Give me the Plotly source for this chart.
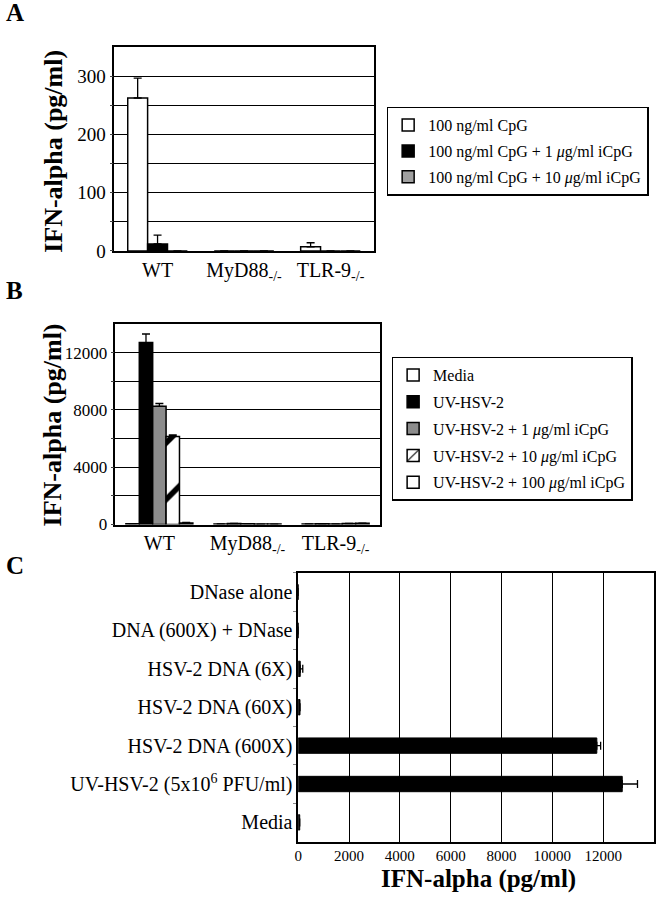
import plotly.graph_objects as go

FONT = "Liberation Serif"
W, H = 656, 900

# ---- panel A data ----
a_groups = ["WT", "MyD88<sub>-/-</sub>", "TLR-9<sub>-/-</sub>"]
a_names = ["100 ng/ml CpG",
           "100 ng/ml CpG + 1 <i>μ</i>g/ml iCpG",
           "100 ng/ml CpG + 10 <i>μ</i>g/ml iCpG"]
a_cpg = [263, 0, 7]
a_cpg_err = [34, 0, 7]
a_i1 = [12, 0, 0]
a_i1_err = [15, 0, 0]
a_i10 = [0, 0, 0]
a_i10_err = [0, 0, 0]
a_ticks = [0, 50, 100, 150, 200, 250, 300]
a_ticktext = ["0", "", "100", "", "200", "", "300"]

# ---- panel B data ----
b_groups = ["WT", "MyD88<sub>-/-</sub>", "TLR-9<sub>-/-</sub>"]
b_names = ["Media", "UV-HSV-2",
           "UV-HSV-2 + 1 <i>μ</i>g/ml iCpG",
           "UV-HSV-2 + 10 <i>μ</i>g/ml iCpG",
           "UV-HSV-2 + 100 <i>μ</i>g/ml iCpG"]
b_media = [60, 40, 40]
b_uv = [12700, 70, 50]
b_uv_err = [600, 0, 0]
b_i1 = [8250, 60, 40]
b_i1_err = [200, 0, 0]
b_i10 = [6150, 30, 70]
b_i10_err = [100, 0, 0]
b_i100 = [110, 30, 90]
b_i100_err = [30, 0, 0]
b_ticks = [0, 2000, 4000, 6000, 8000, 10000, 12000]
b_ticktext = ["0", "", "4000", "", "8000", "", "12000"]

# ---- panel C data (bottom to top) ----
c_labels = ["Media", "UV-HSV-2 (5x10<sup>6</sup> PFU/ml)", "HSV-2 DNA (600X)",
            "HSV-2 DNA (60X)", "HSV-2 DNA (6X)", "DNA (600X) + DNase", "DNase alone"]
c_vals = [60, 12750, 11750, 70, 80, 0, 0]
c_err = [0, 600, 150, 0, 100, 0, 0]
c_ticks = [0, 2000, 4000, 6000, 8000, 10000, 12000]


def px(x0, x1):
    return [x0 / W, x1 / W]


def py(top, bottom):
    return [1 - bottom / H, 1 - top / H]


def err(arr):
    return dict(type="data", array=arr, arrayminus=[0] * len(arr), symmetric=False,
                color="black", thickness=1.3, width=4)


fig = go.Figure()

# panel A bars
a_w = 0.23
a_colors = ["white", "black", "#a0a0a0"]
for i, (vals, e) in enumerate([(a_cpg, a_cpg_err), (a_i1, a_i1_err), (a_i10, a_i10_err)]):
    fig.add_trace(go.Bar(
        x=a_groups, y=vals, name=a_names[i], width=a_w, offset=-1.5 * a_w + i * a_w,
        marker=dict(color=a_colors[i], line=dict(color="black", width=1.5)),
        error_y=err(e), xaxis="x", yaxis="y", legend="legend", legendgroup=f"a{i}",
    ))

# panel B bars
b_w = 0.152
b_series = [(b_media, [0, 0, 0]), (b_uv, b_uv_err), (b_i1, b_i1_err),
            (b_i10, b_i10_err), (b_i100, b_i100_err)]
b_colors = ["white", "black", "#8c8c8c", "white", "white"]
for i, (vals, e) in enumerate(b_series):
    marker = dict(color=b_colors[i], line=dict(color="black", width=1.5))
    if i == 3:
        marker["pattern"] = dict(shape="/", fgcolor="black", bgcolor="white",
                                 fgopacity=1, size=40, solidity=0.14)
    fig.add_trace(go.Bar(
        x=b_groups, y=vals, name=b_names[i], width=b_w, offset=-2.5 * b_w + i * b_w,
        marker=marker, error_y=err(e), xaxis="x2", yaxis="y2", legend="legend2",
        legendgroup=f"b{i}",
    ))

# panel C bars
fig.add_trace(go.Bar(
    y=c_labels, x=c_vals, orientation="h", width=0.4, showlegend=False,
    marker=dict(color="black", line=dict(color="black", width=1)),
    error_x=dict(type="data", array=c_err, arrayminus=[0] * len(c_err), symmetric=False,
                 color="black", thickness=1.3, width=4),
    xaxis="x3", yaxis="y3",
))

box = dict(showline=True, linecolor="black", linewidth=1.5, mirror=True)
grid = dict(showgrid=True, gridcolor="black", gridwidth=1.3, zeroline=False)

fig.update_layout(
    width=W, height=H,
    margin=dict(l=0, r=0, t=0, b=0),
    paper_bgcolor="white", plot_bgcolor="white",
    font=dict(family=FONT, color="black"),
    barmode="group",
    xaxis=dict(domain=px(111, 372), anchor="y", tickfont=dict(size=20), **box),
    yaxis=dict(domain=py(48, 254), anchor="x", range=[0, 350], tickvals=a_ticks,
               ticktext=a_ticktext, ticks="outside", ticklen=3,
               tickfont=dict(size=19), **box, **grid),
    xaxis2=dict(domain=px(112, 378), anchor="y2", tickfont=dict(size=20), **box),
    yaxis2=dict(domain=py(328, 531), anchor="x2", range=[0, 14000], tickvals=b_ticks,
                ticktext=b_ticktext, ticks="outside", ticklen=3,
                tickfont=dict(size=17), **box, **grid),
    xaxis3=dict(domain=px(296, 654), anchor="y3", range=[0, 14000], tickvals=c_ticks,
                tickformat="d", tickfont=dict(size=15), **box, **grid),
    yaxis3=dict(domain=py(580, 852), anchor="x3", tickfont=dict(size=20),
                ticks="outside", tickson="boundaries", ticklen=3, tickcolor="#888",
                **box),
    legend=dict(x=385 / W, y=1 - 108 / H, xanchor="left", yanchor="top",
                bordercolor="black", borderwidth=1.5, bgcolor="white",
                font=dict(size=16, family=FONT), traceorder="grouped",
                tracegroupgap=2),
    legend2=dict(x=390 / W, y=1 - 361 / H, xanchor="left", yanchor="top",
                 bordercolor="black", borderwidth=1.5, bgcolor="white",
                 font=dict(size=16, family=FONT), traceorder="grouped",
                 tracegroupgap=3),
)

title = "<b>IFN-alpha (pg/ml)</b>"
fig.add_annotation(text=title, x=49 / W, y=1 - 153 / H, textangle=-90,
                   xanchor="center", yanchor="middle", font_size=26)
fig.add_annotation(text=title, x=49 / W, y=1 - 430 / H, textangle=-90,
                   xanchor="center", yanchor="middle", font_size=26)
fig.add_annotation(text=title, x=477 / W, y=0, yshift=-6,
                   xanchor="center", yanchor="bottom", font_size=25)
fig.update_annotations(xref="paper", yref="paper", showarrow=False,
                       font=dict(family=FONT, color="black"))

for letter, yy in [("A", 13), ("B", 294), ("C", 572)]:
    fig.add_annotation(text=f"<b>{letter}</b>", xref="paper", yref="paper",
                       x=0, y=1 - yy / H, xanchor="left", yanchor="middle",
                       showarrow=False, font=dict(family=FONT, size=25, color="black"))

# page body has a default margin; drop it so the figure sits at the window edge
fig.write_html("out.html", config={"displayModeBar": False},
               post_script="document.body.style.margin='0';"
                           "document.body.style.overflow='hidden';")
